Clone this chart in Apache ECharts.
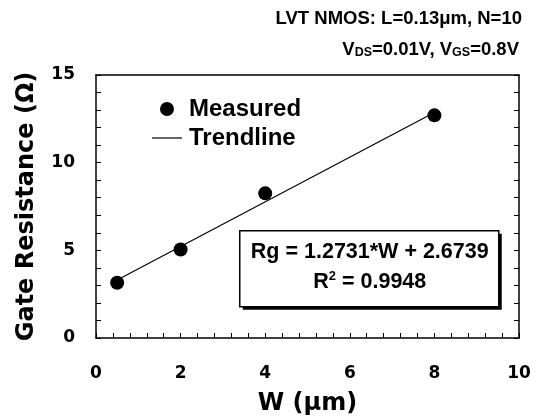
<!DOCTYPE html>
<html>
<head>
<meta charset="utf-8">
<style>
html,body{margin:0;padding:0;background:#fff;}
#chart{width:543px;height:417px;}
</style>
<script src="https://cdn.jsdelivr.net/npm/echarts@6/dist/echarts.min.js"></script>
</head>
<body>
<div id="chart"></div>
<script>
// Data
var widths = [0.5, 2, 4, 8];            // W (µm)
var gateRes = [3.15, 5.05, 8.25, 12.7];  // Rg (Ω), measured
var trendW = [0.5, 8];
var trendRg = [3.31, 12.86];
var xTicks = [0, 2, 4, 6, 8, 10];
var yTicks = [0, 5, 10, 15];

var measured = widths.map(function (w, i) { return [w, gateRes[i]]; });
var trend = trendW.map(function (w, i) { return [w, trendRg[i]]; });

var axisFont = 'DejaVu Sans';
var txtFont = 'Liberation Sans';
var black = '#000';

var chart = echarts.init(document.getElementById('chart'));
chart.setOption({
  animation: false,
  backgroundColor: '#fff',
  title: [
    {
      text: 'LVT NMOS: L=0.13\u03bcm, N=10',
      right: 16, top: 4,
      textStyle: {fontFamily: txtFont, fontWeight: 'bold', fontSize: 18.5, color: black}
    },
    {
      text: '{b|V}{s|DS}{b|=0.01V, V}{s|GS}{b|=0.8V}',
      right: 19, top: 30,
      textStyle: {
        rich: {
          b: {fontFamily: txtFont, fontWeight: 'bold', fontSize: 18.5, color: black, lineHeight: 24, verticalAlign: 'bottom'},
          s: {fontFamily: txtFont, fontWeight: 'bold', fontSize: 12.5, color: black, lineHeight: 20, verticalAlign: 'bottom'}
        }
      }
    }
  ],
  legend: {
    orient: 'vertical',
    left: 147, top: 92,
    itemWidth: 30, itemHeight: 14,
    itemGap: 5,
    data: [
      {name: 'Measured', icon: 'circle', itemStyle: {color: black, opacity: 1}},
      {name: 'Trendline', icon: 'path://M0,0L30,0L30,1.2L0,1.2Z', itemStyle: {color: black}}
    ],
    textStyle: {fontFamily: txtFont, fontWeight: 'bold', fontSize: 24, color: black, padding: [0,0,0,2]}
  },
  grid: {left: 96, right: 24, top: 75, bottom: 79, containLabel: false, outerBoundsMode: 'none'},
  xAxis: [
    {
      type: 'value', min: 0, max: 10, interval: 2, position: 'bottom',
      name: 'W (\u03bcm)', nameLocation: 'middle', nameGap: 54,
      nameTextStyle: {fontFamily: axisFont, fontWeight: 'bold', fontSize: 24, color: black},
      axisLine: {show: true, lineStyle: {color: black, width: 1.5}},
      axisTick: {show: true, inside: true, length: 5, lineStyle: {color: black, width: 1}},
      minorTick: {show: true, splitNumber: 5, length: 5, lineStyle: {color: black, width: 1}},
      splitLine: {show: false},
      axisLabel: {margin: 27, fontFamily: axisFont, fontWeight: 'bold', fontSize: 17, color: black,
        customValues: xTicks},
    },
    {
      type: 'value', min: 0, max: 10, interval: 2, position: 'top',
      axisLine: {show: true, onZero: false, lineStyle: {color: black, width: 1.5}},
      axisTick: {show: false}, axisLabel: {show: false}, splitLine: {show: false}
    }
  ],
  yAxis: [
    {
      type: 'value', min: 0, max: 15, interval: 5, position: 'left',
      name: 'Gate Resistance (\u03a9)', nameLocation: 'middle', nameGap: 57,
      nameTextStyle: {fontFamily: axisFont, fontWeight: 'bold', fontSize: 24, color: black},
      axisLine: {show: true, lineStyle: {color: black, width: 1.5}},
      axisTick: {show: true, inside: true, length: 5, lineStyle: {color: black, width: 1}},
      minorTick: {show: true, splitNumber: 5, length: 5, lineStyle: {color: black, width: 1}},
      splitLine: {show: false},
      axisLabel: {margin: 21, fontFamily: axisFont, fontWeight: 'bold', fontSize: 17, color: black,
        customValues: yTicks}
    },
    {
      type: 'value', min: 0, max: 15, interval: 5, position: 'right',
      axisLine: {show: true, onZero: false, lineStyle: {color: black, width: 1.5}},
      axisTick: {show: true, inside: true, length: 5, lineStyle: {color: black, width: 1}},
      minorTick: {show: true, splitNumber: 5, length: 5, lineStyle: {color: black, width: 1}},
      axisLabel: {show: false}, splitLine: {show: false}
    }
  ],
  series: [
    {
      name: 'Measured', type: 'scatter', xAxisIndex: 0, yAxisIndex: 0,
      data: measured, symbol: 'circle', symbolSize: 14, z: 5,
      itemStyle: {color: black, opacity: 1}
    },
    {
      name: 'Trendline', type: 'line', xAxisIndex: 0, yAxisIndex: 0,
      data: trend, symbol: 'none', showSymbol: false, z: 3,
      lineStyle: {color: black, width: 1.2}, itemStyle: {color: black}
    }
  ],
  graphic: [
    {
      type: 'group', left: 239, top: 230, z: 10,
      children: [
        {
          type: 'rect', shape: {x: 3, y: 3, width: 259, height: 76},
          style: {fill: black}
        },
        {
          type: 'rect', shape: {x: 0, y: 0, width: 259, height: 76},
          style: {fill: '#fff', stroke: black, lineWidth: 1.5}
        },
        {
          type: 'text', x: 130, y: 21,
          style: {text: 'Rg = 1.2731*W + 2.6739', fill: black, align: 'center', verticalAlign: 'middle',
            font: 'bold 21.5px "Liberation Sans"'}
        },
        {
          type: 'text', x: 130, y: 51,
          style: {
            text: '{b|R}{p|2}{b| = 0.9948}', align: 'center', verticalAlign: 'middle',
            rich: {
              b: {fill: black, fontFamily: txtFont, fontWeight: 'bold', fontSize: 21.5, lineHeight: 24, verticalAlign: 'middle'},
              p: {fill: black, fontFamily: txtFont, fontWeight: 'bold', fontSize: 13, lineHeight: 24, verticalAlign: 'top', padding: [0, 0, 10, 0]}
            }
          }
        }
      ]
    }
  ]
});
</script>
</body>
</html>
